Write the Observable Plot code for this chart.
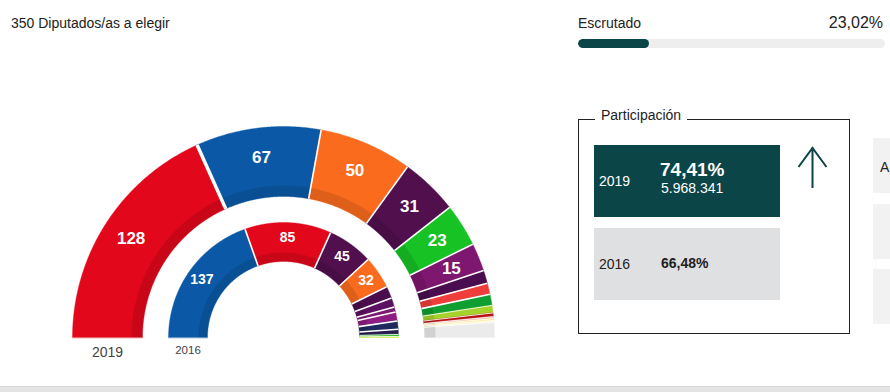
<!DOCTYPE html>
<html><head><meta charset="utf-8">
<script src="https://cdn.jsdelivr.net/npm/d3@7"></script>
<script src="https://cdn.jsdelivr.net/npm/@observablehq/plot@0.6"></script>
<style>
body{margin:0;width:890px;height:392px;overflow:hidden;position:relative;font-family:"Liberation Sans",Arial,Helvetica,sans-serif;color:#222;background:#fff}
.t{position:absolute;line-height:1;white-space:nowrap}
#chart{position:absolute;left:0;top:100px}
#bar{position:absolute;left:578px;top:39px;width:307px;height:9px;border-radius:5px;background:#eeeeee;overflow:hidden}
#bar div{height:100%;background:#0b4547;border-radius:5px}
#box{position:absolute;left:578px;top:119px;width:270px;height:213px;border:1px solid #222}
.card{position:absolute;left:594px;width:186px;height:72px}
.side{position:absolute;left:873px;width:30px;height:55px;background:#f2f2f2}
#foot{position:absolute;left:0;top:386px;width:890px;height:6px;background:#e4e4e4;border-top:1px solid #d8d8d8}
</style></head><body>
<div class="t" style="left:11px;top:16px;font-size:14px">350 Diputados/as a elegir</div>
<div class="t" style="left:578px;top:16px;font-size:14px">Escrutado</div>
<div class="t" style="right:7px;top:14.5px;font-size:16px">23,02%</div>
<div id="bar"><div id="barfill"></div></div>

<div id="box"></div>
<div class="t" style="left:595px;top:108px;font-size:14px;background:#fff;padding:0 6px">Participación</div>
<div class="card" style="top:145px;background:#0b4547"></div>
<div class="card" style="top:228px;background:#dfe0e1"></div>
<div class="t" style="left:599px;top:174px;font-size:14px;color:#fff">2019</div>
<div class="t" style="left:660px;top:160px;font-size:19px;font-weight:bold;color:#fff">74,41%</div>
<div class="t" style="left:661px;top:181px;font-size:14px;color:#fff">5.968.341</div>
<div class="t" style="left:599px;top:256.5px;font-size:14px">2016</div>
<div class="t" style="left:661px;top:256px;font-size:14px;font-weight:bold">66,48%</div>
<svg style="position:absolute;left:795px;top:140px" width="36" height="52">
  <path d="M17.5 7 V48 M3.5 27 L17.5 8 L31.5 27" fill="none" stroke="#0b4547" stroke-width="2"/>
</svg>
<div class="side" style="top:138px"></div>
<div class="side" style="top:204px"></div>
<div class="side" style="top:269px"></div>
<div class="t" style="left:880px;top:160px;font-size:14px">A</div>
<div id="chart"></div>
<div id="foot"></div>

<script>
// ---------- data ----------
const totalSeats = 350;
const scrutinized = 23.02;

const parties2019 = ["PSOE","PP","Cs","UP","Vox","ERC","JxCat","EAJ-PNV","EH Bildu","Compromís","CC","PRC","NA+","Otros","Sin asignar"];
const seats2019   = [128, 67, 50, 31, 23, 15, 7, 6, 6, 4, 2, 1, 1, 1, 8];
const colors2019  = ["#e2071b","#0b59a6","#fa6b1e","#510f4e","#17c224","#7e176f","#4a0d4f","#ee3d3b","#0f9f30","#a5d22b","#b5150f","#f7b8c4","#fde98a","#fff6c8","#ebebeb"];

const parties2016 = ["PP","PSOE","Unidos Podemos","Cs","ECP","Compromís","En Marea","ERC","CDC","PNV","EH Bildu","CC"];
const seats2016   = [137, 85, 45, 32, 12, 9, 5, 9, 8, 5, 2, 1];
const colors2016  = ["#0b59a6","#e2071b","#510f4e","#fa6b1e","#4b0d4c","#5c1160","#7a1b72","#8d1d80","#1e2a5e","#2a1c4f","#14b028","#d0ea2a"];

const years = ["2019","2016"];

// ---------- layout ----------
const W = 520, H = 260, cx = 283, cy = 237, R = 211;
const rings = [
  {year: years[0], seats: seats2019, colors: colors2019, parties: parties2019, rIn: 141/R, rOut: 1, band: 11/R, minLabel: 15, fs: 17, dy: 15, yfs: 14},
  {year: years[1], seats: seats2016, colors: colors2016, parties: parties2016, rIn: 76/R, rOut: 115/R, band: 9/R, minLabel: 32, fs: 14, dy: 13, yfs: 11.5}
];

const ang = s => Math.PI - (s / totalSeats) * Math.PI;
const pt = (s, r) => ({x: r * Math.cos(ang(s)), y: r * Math.sin(ang(s))});

const polys = [], bands = [], seps = [], labels = [], yearLabels = [];
rings.forEach((ring, ri) => {
  let c = 0;
  ring.seats.forEach((v, i) => {
    const s0 = c, s1 = c + v; c = s1;
    const n = Math.max(2, Math.ceil(v * 2));
    const id = ring.year + "-" + i;
    const outer = d3.range(n + 1).map(k => s0 + (s1 - s0) * k / n);
    const inner = outer.slice().reverse();
    outer.forEach(s => polys.push({id, color: ring.colors[i], ...pt(s, ring.rOut)}));
    inner.forEach(s => polys.push({id, color: ring.colors[i], ...pt(s, ring.rIn)}));
    outer.forEach(s => bands.push({id, ...pt(s, ring.rIn + ring.band)}));
    inner.forEach(s => bands.push({id, ...pt(s, ring.rIn)}));
    if (i > 0) {
      const a = pt(s0, ring.rIn), b = pt(s0, ring.rOut);
      const small = Math.min(v, ring.seats[i - 1]) < 5;
      seps.push({x1: a.x, y1: a.y, x2: b.x, y2: b.y, w: (ri === 0 && i === 1) ? 3.5 : small ? 0.8 : 1.6});
    }
    if (v >= ring.minLabel) {
      const p = pt((s0 + s1) / 2, (ring.rIn + ring.band + ring.rOut) / 2);
      labels.push({...p, text: String(v), fs: ring.fs});
    }
  });
  yearLabels.push({x: -(ring.rIn + ring.rOut) / 2, y: 0, text: ring.year, dy: ring.dy, fs: ring.yfs});
});

const chart = Plot.plot({
  width: W, height: H,
  marginLeft: cx - R, marginRight: W - (cx + R), marginTop: cy - R, marginBottom: H - cy,
  x: {domain: [-1, 1], axis: null},
  y: {domain: [0, 1], axis: null},
  color: {type: "identity"},
  style: {fontFamily: '"Liberation Sans", Arial, Helvetica, sans-serif', background: "transparent"},
  marks: [
    Plot.line(polys, {x: "x", y: "y", z: "id", fill: "color", stroke: "color", strokeWidth: 0.4, curve: "linear-closed"}),
    Plot.line(bands, {x: "x", y: "y", z: "id", fill: "#000", fillOpacity: 0.11, stroke: "none", curve: "linear-closed"}),
    Plot.link(seps, {x1: "x1", y1: "y1", x2: "x2", y2: "y2", stroke: "#fff", strokeWidth: d => d.w}),
    ...labels.map(l => Plot.text([l], {x: "x", y: "y", text: "text", fill: "#fff", fontSize: l.fs, fontWeight: "bold"})),
    ...yearLabels.map(l => Plot.text([l], {x: "x", y: "y", text: "text", fill: "#444", fontSize: l.fs, dy: l.dy}))
  ]
});
document.getElementById("chart").append(chart);
document.getElementById("barfill").style.width = scrutinized + "%";
</script>
</body></html>
